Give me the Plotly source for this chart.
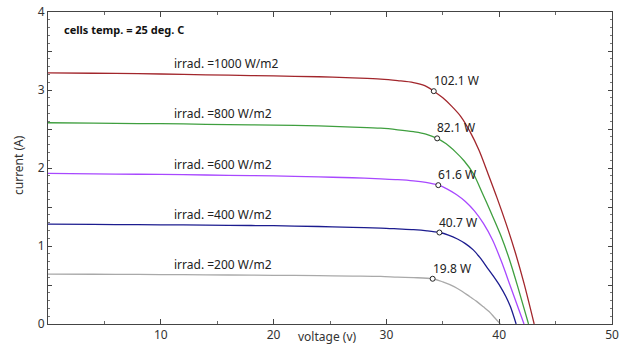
import plotly.graph_objects as go

# I-V characteristics of a PV module at 25 deg. C for five irradiance levels
irradiance = [1000, 800, 600, 400, 200]
colors = ["#a2262c", "#3f9f3f", "#a848ff", "#1c1c8f", "#a9a9a9"]

v_1000 = [0, 4, 8, 12, 16, 20, 24, 27, 29.5, 31, 32.4, 33.4, 34.2, 35.0, 35.8, 36.6, 37.4, 38.2,
          39.0, 39.8, 40.6, 41.4, 42.2, 43.1]
i_1000 = [3.22, 3.215, 3.21, 3.20, 3.19, 3.18, 3.17, 3.155, 3.14, 3.12, 3.095, 3.055, 2.985, 2.90,
          2.79, 2.66, 2.47, 2.23, 1.93, 1.62, 1.29, 0.93, 0.52, 0]

v_800 = [0, 4, 8, 12, 16, 20, 24, 27, 29.5, 31, 32.4, 33.5, 34.5, 35.3, 36.1, 36.9, 37.7, 38.5,
         39.3, 40.1, 40.9, 41.7, 42.6]
i_800 = [2.58, 2.575, 2.57, 2.565, 2.555, 2.55, 2.54, 2.525, 2.51, 2.49, 2.465, 2.435, 2.38, 2.31,
         2.21, 2.09, 1.93, 1.68, 1.42, 1.15, 0.83, 0.45, 0]

v_600 = [0, 4, 8, 12, 16, 20, 24, 27, 29.5, 31, 32.4, 33.5, 34.6, 35.4, 36.2, 37.0, 37.8, 38.6,
         39.4, 40.2, 41.0, 41.6, 42.2]
i_600 = [1.93, 1.925, 1.92, 1.915, 1.905, 1.90, 1.885, 1.875, 1.86, 1.85, 1.835, 1.815, 1.78, 1.73,
         1.66, 1.57, 1.45, 1.29, 1.08, 0.80, 0.48, 0.24, 0]

v_400 = [0, 4, 8, 12, 16, 20, 24, 27, 29.5, 31, 32.4, 33.6, 34.7, 35.5, 36.3, 37.0, 37.7, 38.3,
         38.9, 39.5, 40.1, 40.6, 41.0, 41.5]
i_400 = [1.28, 1.277, 1.273, 1.27, 1.265, 1.26, 1.25, 1.24, 1.23, 1.22, 1.21, 1.195, 1.173, 1.14,
         1.09, 1.03, 0.95, 0.85, 0.73, 0.61, 0.48, 0.35, 0.22, 0]

v_200 = [0, 4, 8, 12, 16, 20, 24, 27, 29.5, 31, 32.4, 34.1, 35.0, 36.0, 36.7, 37.4, 38.0, 38.6,
         39.1, 39.6, 40.1]
i_200 = [0.64, 0.638, 0.635, 0.632, 0.628, 0.624, 0.62, 0.615, 0.61, 0.60, 0.595, 0.58, 0.54,
         0.48, 0.42, 0.35, 0.29, 0.22, 0.16, 0.08, 0]

voltages = [v_1000, v_800, v_600, v_400, v_200]
currents = [i_1000, i_800, i_600, i_400, i_200]

# maximum power points
mpp_v = [34.2, 34.5, 34.6, 34.7, 34.1]
mpp_i = [2.985, 2.38, 1.78, 1.173, 0.58]
mpp_label = ["102.1 W", "82.1 W", "61.6 W", "40.7 W", "19.8 W"]

label_v = 11.0
font_family = "Noto Sans, Open Sans, sans-serif"

fig = go.Figure()
for g, c, v, i in zip(irradiance, colors, voltages, currents):
    fig.add_trace(go.Scatter(x=v, y=i, mode="lines",
                             line=dict(color=c, width=1.3, shape="spline", smoothing=0.9),
                             hoverinfo="skip", showlegend=False))

fig.add_trace(go.Scatter(x=mpp_v, y=mpp_i, mode="markers",
                         marker=dict(symbol="circle", size=5, color="white",
                                     line=dict(color="#222222", width=1)),
                         showlegend=False, hoverinfo="skip"))

annotations = []
for g, v, i in zip(irradiance, voltages, currents):
    annotations.append(dict(x=label_v, y=i[3], xref="x", yref="y",
                            text=f"irrad. ={g} W/m2", showarrow=False,
                            xanchor="left", yanchor="bottom",
                            font=dict(size=12, color="#222222", family=font_family)))
for v, i, t in zip(mpp_v, mpp_i, mpp_label):
    annotations.append(dict(x=v, y=i, xref="x", yref="y", text=t, showarrow=False,
                            xanchor="left", yanchor="bottom", xshift=-2, yshift=0,
                            font=dict(size=12, color="#222222", family=font_family)))

annotations.append(dict(x=1.25, y=3.77, xref="x", yref="y", text="<b>cells temp. = 25 deg. C</b>",
                        showarrow=False, xanchor="left", yanchor="middle",
                        font=dict(size=11, color="#111111", family=font_family)))

# axis titles placed by pixel position, converted to plot-area paper coordinates
pl, pr, pt, pb = 48, 20, 12, 21
pw, ph = 632 - pl - pr, 345 - pt - pb
annotations.append(dict(x=(327 - pl) / pw, y=(345 - 336 - pb) / ph, xref="paper", yref="paper",
                        text="voltage (v)", showarrow=False, xanchor="center", yanchor="middle",
                        font=dict(size=12, color="#333333", family=font_family)))
annotations.append(dict(x=(18 - pl) / pw, y=(345 - 165 - pb) / ph, xref="paper", yref="paper",
                        text="current (A)", showarrow=False, textangle=-90,
                        xanchor="center", yanchor="middle",
                        font=dict(size=12, color="#333333", family=font_family)))

y_ticks = [k * 0.5 for k in range(9)]
y_text = [str(int(t)) if t == int(t) else "" for t in y_ticks]

fig.update_layout(
    width=632, height=345,
    margin=dict(l=pl, r=pr, t=pt, b=pb, autoexpand=False),
    paper_bgcolor="white", plot_bgcolor="white",
    font=dict(family=font_family, size=12, color="#333333"),
    annotations=annotations,
    xaxis=dict(range=[0, 50], tickvals=[10, 20, 30, 40, 50], automargin=False,
               ticks="inside", ticklen=5, tickcolor="#444444",
               showline=True, linecolor="#444444", linewidth=1, mirror="allticks",
               showgrid=False, zeroline=False,
               minor=dict(dtick=5, tick0=0, ticks="inside", ticklen=3, tickcolor="#666666", showgrid=False),
               tickfont=dict(size=12, color="#333333")),
    yaxis=dict(range=[0, 4], tickvals=y_ticks, ticktext=y_text, automargin=False,
               ticks="inside", ticklen=4, tickcolor="#444444",
               showline=True, linecolor="#444444", linewidth=1, mirror="allticks",
               showgrid=False, zeroline=False,
               minor=dict(dtick=0.1, tick0=0, ticks="inside", ticklen=2, tickcolor="#777777", showgrid=False),
               tickfont=dict(size=12, color="#333333")),
)

fig.write_html("out.html")
